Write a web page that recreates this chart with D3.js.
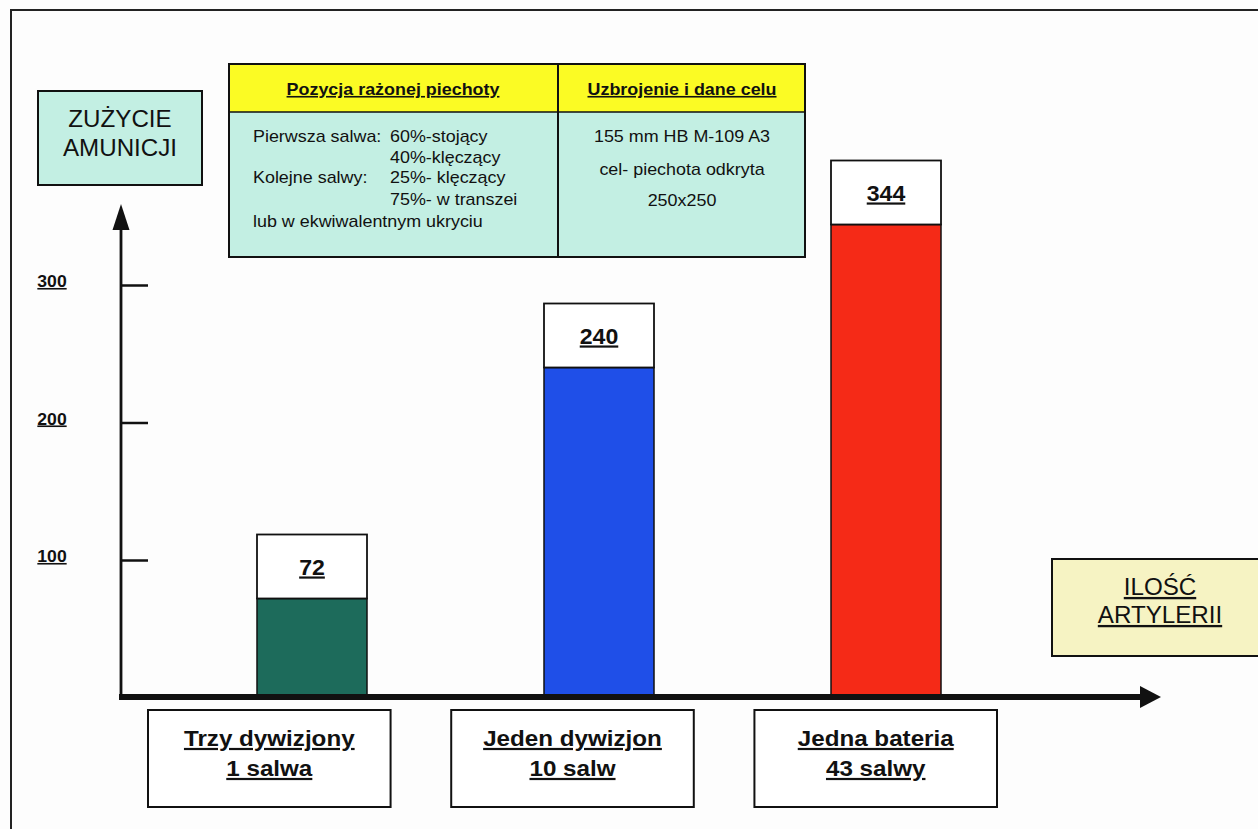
<!DOCTYPE html>
<html>
<head>
<meta charset="utf-8">
<script src="https://cdn.jsdelivr.net/npm/d3@7"></script>
<style>
  html, body { margin: 0; padding: 0; background: #fdfdfd; overflow: hidden; }
  text { font-family: "Liberation Sans", Arial, sans-serif; fill: #111; }
</style>
</head>
<body>
<svg id="chart" width="1258" height="829"></svg>
<script>
// ---- data ----
const categories = ["Trzy dywizjony", "Jeden dywizjon", "Jedna bateria"];
const salvoCounts = ["1 salwa", "10 salw", "43 salwy"];
const ammunitionUse = [72, 240, 344];
const yTickValues = [100, 200, 300];
const yAxisTitle = ["ZUŻYCIE", "AMUNICJI"];
const xAxisTitle = ["ILOŚĆ", "ARTYLERII"];
const tableHeaders = ["Pozycja rażonej piechoty", "Uzbrojenie i dane celu"];
const positionLabels = ["Pierwsza salwa:", "", "Kolejne salwy:", "", "lub w ekwiwalentnym ukryciu"];
const positionShares = ["60%-stojący", "40%-klęczący", "25%- klęczący", "75%- w transzei", ""];
const weaponLines = ["155 mm HB M-109 A3", "cel- piechota odkryta", "250x250"];

// ---- styles ----
const barColors = ["#1d6b5b", "#1f4fe8", "#f52a17"];
const ink = "#111";
const mint = "#c3efe3";
const headerYellow = "#fbfb24";
const paleYellow = "#f6f3c3";

const svg = d3.select("#chart");

// text with slightly widened glyphs
function label(parent, x, y, s, o) {
  const opt = Object.assign({ size: 16, weight: "normal", anchor: "middle", underline: false, sx: 1.1 }, o || {});
  return parent.append("text")
    .attr("transform", `translate(${x},${y}) scale(${opt.sx},1)`)
    .attr("text-anchor", opt.anchor)
    .style("font-size", opt.size + "px")
    .style("font-weight", opt.weight)
    .style("text-decoration", opt.underline ? "underline" : null)
    .text(s);
}

// page frame
svg.append("rect")
  .attr("x", 11).attr("y", 10).attr("width", 1400).attr("height", 1000)
  .attr("fill", "none").attr("stroke", "#222").attr("stroke-width", 2);

// ---- scales ----
const y = d3.scaleLinear().domain([0, 300]).range([697.5, 285]);
const xBar = d3.scalePoint().domain(categories).range([312, 886]);
const xBox = d3.scaleBand().domain(categories).range([148, 997]).paddingInner(0.2).paddingOuter(0);
const barWidth = 110;
const valueBoxHeight = 64;

// ---- info table ----
const table = svg.append("g");
table.append("rect").attr("x", 229).attr("y", 64).attr("width", 576).attr("height", 48)
  .attr("fill", headerYellow);
table.append("rect").attr("x", 229).attr("y", 112).attr("width", 576).attr("height", 145)
  .attr("fill", mint);
table.append("rect").attr("x", 229).attr("y", 64).attr("width", 576).attr("height", 193)
  .attr("fill", "none").attr("stroke", ink).attr("stroke-width", 2);
table.append("line").attr("x1", 229).attr("x2", 805).attr("y1", 112).attr("y2", 112)
  .attr("stroke", ink).attr("stroke-width", 1.5);
table.append("line").attr("x1", 558).attr("x2", 558).attr("y1", 64).attr("y2", 257)
  .attr("stroke", ink).attr("stroke-width", 2);

label(table, 393, 95, tableHeaders[0], { size: 16, weight: "bold", underline: true, sx: 1.12 });
label(table, 682, 95, tableHeaders[1], { size: 16, weight: "bold", underline: true, sx: 1.12 });

const rowY = [141.5, 162.5, 183, 204.5, 226.5];
positionLabels.forEach((s, i) => {
  if (s) label(table, 253, rowY[i], s, { size: 16, anchor: "start", sx: 1.12 });
});
positionShares.forEach((s, i) => {
  if (s) label(table, 390, rowY[i], s, { size: 16, anchor: "start", sx: 1.12 });
});
const weaponY = [141.5, 174.5, 205.5];
weaponLines.forEach((s, i) => label(table, 682, weaponY[i], s, { size: 16, sx: 1.12 }));

// ---- axis titles ----
const yTitle = svg.append("g");
yTitle.append("rect").attr("x", 38).attr("y", 91).attr("width", 164).attr("height", 94)
  .attr("fill", mint).attr("stroke", ink).attr("stroke-width", 2);
yAxisTitle.forEach((s, i) => label(yTitle, 120, 127 + i * 29, s, { size: 23, sx: 1.05 }));

const xTitle = svg.append("g");
xTitle.append("rect").attr("x", 1052).attr("y", 559).attr("width", 230).attr("height", 97)
  .attr("fill", paleYellow).attr("stroke", ink).attr("stroke-width", 2);
xAxisTitle.forEach((s, i) => label(xTitle, 1160, 595 + i * 28, s, { size: 23, underline: true, sx: 1.05 }));

// ---- bars ----
const bars = svg.append("g");
categories.forEach((c, i) => {
  const v = ammunitionUse[i];
  const x0 = xBar(c) - barWidth / 2;
  bars.append("rect")
    .attr("x", x0).attr("y", y(v))
    .attr("width", barWidth).attr("height", y(0) - y(v))
    .attr("fill", barColors[i]).attr("stroke", ink).attr("stroke-width", 1.5);
  bars.append("rect")
    .attr("x", x0).attr("y", y(v) - valueBoxHeight)
    .attr("width", barWidth).attr("height", valueBoxHeight)
    .attr("fill", "#fff").attr("stroke", ink).attr("stroke-width", 1.8);
  label(bars, xBar(c), y(v) - valueBoxHeight / 2 + 8, String(v),
    { size: 22, weight: "bold", underline: true, sx: 1.05 });
});

// ---- y axis ----
const yAxisG = svg.append("g").attr("transform", "translate(121,0)")
  .call(d3.axisRight(y).tickValues(yTickValues).tickSize(27).tickFormat(""));
yAxisG.select(".domain").remove();
yAxisG.selectAll(".tick line").attr("stroke", ink).attr("stroke-width", 2.5);

svg.append("line").attr("x1", 121).attr("x2", 121).attr("y1", 698).attr("y2", 225)
  .attr("stroke", ink).attr("stroke-width", 2.8);
svg.append("path").attr("d", "M121,204 L129.5,230 L112.5,230 Z").attr("fill", ink);

const tickLabels = svg.append("g");
yTickValues.forEach(t => label(tickLabels, 52, y(t) + 2, String(t),
  { size: 16, weight: "bold", underline: true, sx: 1.1 }));

// ---- x axis ----
svg.append("line").attr("x1", 119).attr("x2", 1143).attr("y1", 697).attr("y2", 697)
  .attr("stroke", ink).attr("stroke-width", 6);
svg.append("path").attr("d", "M1140,686 L1161,697 L1140,708 Z").attr("fill", ink);

// ---- category boxes ----
const catG = svg.append("g");
categories.forEach((c, i) => {
  catG.append("rect")
    .attr("x", xBox(c)).attr("y", 710)
    .attr("width", xBox.bandwidth()).attr("height", 97)
    .attr("fill", "#fff").attr("stroke", ink).attr("stroke-width", 2);
  const cx = xBox(c) + xBox.bandwidth() / 2;
  label(catG, cx, 746, c, { size: 22, weight: "bold", underline: true, sx: 1.1 });
  label(catG, cx, 776, salvoCounts[i], { size: 22, weight: "bold", underline: true, sx: 1.1 });
});
</script>
</body>
</html>
